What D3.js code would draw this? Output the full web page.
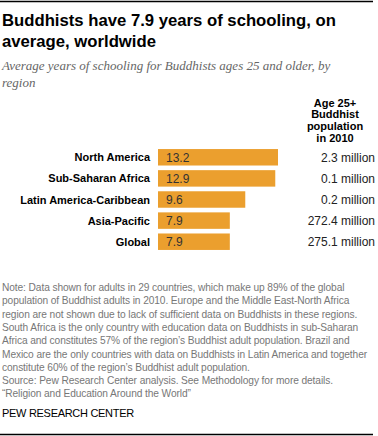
<!DOCTYPE html>
<html><head><meta charset="utf-8">
<script src="https://cdn.jsdelivr.net/npm/d3@7"></script>
<style>
body{margin:0;background:#fff;}
svg{display:block;}
</style></head>
<body>
<svg id="c" width="378" height="436"></svg>
<script>
const categories = ["North America","Sub-Saharan Africa","Latin America-Caribbean","Asia-Pacific","Global"];
const years = [13.2, 12.9, 9.6, 7.9, 7.9];
const population = ["2.3 million","0.1 million","0.2 million","272.4 million","275.1 million"];
const titleLines = ["Buddhists have 7.9 years of schooling, on","average, worldwide"];
const subtitleLines = ["Average years of schooling for Buddhists ages 25 and older, by","region"];
const headerLines = ["Age 25+","Buddhist","population","in 2010"];
const noteLines = [
 "Note: Data shown for adults in 29 countries, which make up 89% of the global",
 "population of Buddhist adults in 2010. Europe and the Middle East-North Africa",
 "region are not shown due to lack of sufficient data on Buddhists in these regions.",
 "South Africa is the only country with education data on Buddhists in sub-Saharan",
 "Africa and constitutes 57% of the region\u2019s Buddhist adult population. Brazil and",
 "Mexico are the only countries with data on Buddhists in Latin America and together",
 "constitute 60% of the region\u2019s Buddhist adult population.",
 "Source: Pew Research Center analysis. See Methodology for more details.",
 "\u201cReligion and Education Around the World\u201d"
];
const sourceLabel = "PEW RESEARCH CENTER";

const svg = d3.select("#c");

svg.append("line").attr("x1",0).attr("x2",373).attr("y1",1.5).attr("y2",1.5).attr("stroke","#000").attr("stroke-width",1.5);
svg.append("line").attr("x1",0).attr("x2",373).attr("y1",434.5).attr("y2",434.5).attr("stroke","#000").attr("stroke-width",1.5);

const title = svg.append("text").attr("font-family","'Liberation Sans', Arial, sans-serif").attr("font-weight","bold").attr("font-size",16.7).attr("fill","#000");
titleLines.forEach((t,i)=>title.append("tspan").attr("x",2).attr("y",26+i*20.5).text(t));

const sub = svg.append("text").attr("font-family","'Liberation Serif', 'Times New Roman', serif").attr("font-style","italic").attr("font-size",13).attr("fill","#666");
subtitleLines.forEach((t,i)=>sub.append("tspan").attr("x",2).attr("y",70+i*16.5).text(t));

const head = svg.append("text").attr("font-family","'Liberation Sans', Arial, sans-serif").attr("font-weight","bold").attr("font-size",11).attr("fill","#000").attr("text-anchor","middle");
headerLines.forEach((t,i)=>head.append("tspan").attr("x",335).attr("y",106.5+i*11.8).text(t));

const x = d3.scaleLinear().domain([0,13.2]).range([158,278]);
const y = d3.scaleBand().domain(categories).range([148,251]).paddingInner(0.22).paddingOuter(0.05);

svg.selectAll("rect.bar").data(categories).join("rect").attr("class","bar")
  .attr("x",x(0)).attr("y",d=>y(d)).attr("width",(d,i)=>x(years[i])-x(0)).attr("height",y.bandwidth())
  .attr("fill","#EB9F2E");

svg.selectAll("text.cat").data(categories).join("text").attr("class","cat")
  .attr("x",150).attr("y",d=>y(d)+y.bandwidth()/2+4).attr("text-anchor","end")
  .attr("font-family","'Liberation Sans', Arial, sans-serif").attr("font-weight","bold").attr("font-size",11).attr("fill","#000")
  .text(d=>d);

svg.selectAll("text.val").data(categories).join("text").attr("class","val")
  .attr("x",x(0)+8).attr("y",d=>y(d)+y.bandwidth()/2+4.5)
  .attr("font-family","'Liberation Sans', Arial, sans-serif").attr("font-size",12).attr("fill","#333")
  .text((d,i)=>years[i].toFixed(1));

svg.selectAll("text.pop").data(categories).join("text").attr("class","pop")
  .attr("x",375).attr("y",d=>y(d)+y.bandwidth()/2+4.5).attr("text-anchor","end")
  .attr("font-family","'Liberation Sans', Arial, sans-serif").attr("font-size",12).attr("fill","#222")
  .text((d,i)=>population[i]);

const note = svg.append("text").attr("font-family","'Liberation Sans', Arial, sans-serif").attr("font-size",10.2).attr("letter-spacing",-0.1).attr("fill","#777");
noteLines.forEach((t,i)=>note.append("tspan").attr("x",2).attr("y",291+i*13.3).text(t));

svg.append("text").attr("x",2).attr("y",416.5).attr("font-family","'Liberation Sans', Arial, sans-serif").attr("font-size",11).attr("letter-spacing",-0.3).attr("fill","#000").text(sourceLabel);
</script>
</body></html>
